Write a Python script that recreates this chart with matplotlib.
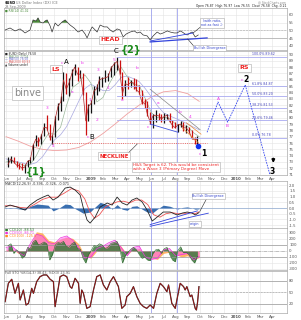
import matplotlib
matplotlib.use("Agg")
import matplotlib.pyplot as plt
import pandas as pd

W, H = 301, 320

# $USD weekly bars, Jun 2008 - Sep 2009
weeks = pd.date_range("2008-06-06", periods=69, freq="W-FRI")
close = [72.6, 73.5, 73.0, 72.5, 72.4, 72.0, 72.2, 73.1,
         73.3, 75.6, 76.6, 76.0, 77.1, 78.5, 78.4, 76.9, 77.0,
         79.9, 81.8, 82.5, 86.0, 84.5, 85.5, 87.0, 88.0, 86.9,
         86.9, 84.0, 79.5, 81.8,
         82.3, 84.2, 84.6, 86.0, 86.2, 86.3, 86.5, 87.9, 88.5,
         88.9, 87.3, 83.8, 85.4, 85.2, 85.6, 85.5, 84.4,
         84.0, 82.4, 82.3, 80.5, 79.3, 80.3, 80.4, 80.3, 79.8,
         80.2, 80.4, 79.4, 78.8, 78.4, 78.9, 79.0, 78.4, 78.4,
         77.9, 76.8, 76.5, 76.6]
high = [73.8, 74.0, 73.8, 73.1, 72.9, 72.8, 72.7, 73.3,
        73.8, 75.8, 77.3, 77.0, 77.4, 79.2, 80.4, 79.0, 77.3,
        80.3, 82.4, 83.5, 87.2, 87.0, 86.3, 87.7, 88.5, 88.1,
        87.5, 87.0, 84.0, 82.1,
        82.8, 85.0, 85.3, 86.6, 86.5, 87.5, 87.0, 88.2, 88.8,
        89.6, 89.1, 87.2, 85.9, 86.5, 86.0, 86.3, 86.1,
        85.2, 84.4, 82.9, 82.6, 80.9, 80.6, 81.2, 80.8, 80.6,
        80.7, 80.6, 80.7, 79.6, 79.3, 79.0, 79.5, 79.3, 78.8,
        78.5, 78.0, 77.0, 77.1]
low = [72.2, 72.9, 72.8, 72.2, 71.9, 71.7, 71.3, 72.2,
       72.8, 73.3, 75.6, 75.6, 75.9, 77.1, 78.0, 76.5, 75.9,
       77.0, 79.6, 81.0, 82.6, 83.8, 83.5, 85.0, 86.8, 85.8,
       86.3, 83.6, 77.3, 79.5,
       80.8, 82.2, 83.6, 84.3, 84.9, 85.7, 85.8, 86.4, 86.8,
       87.6, 86.9, 83.0, 83.5, 84.5, 84.9, 84.5, 84.2,
       83.8, 82.2, 81.6, 80.2, 79.0, 78.3, 79.4, 79.6, 79.4,
       79.2, 79.8, 79.3, 78.4, 78.4, 77.7, 78.6, 77.9, 77.6,
       77.6, 76.7, 75.9, 75.7]

# moving averages, half-month samples (x in months since Jun 2008)
ma_m = [i / 2 for i in range(32)] + [15.95]
ma20 = [73.0, 73.1, 72.9, 72.4, 72.6, 74.0, 76.0, 77.5, 77.4, 78.5,
        82.0, 84.8, 85.5, 86.8, 85.5, 82.5, 83.2, 85.3, 87.0, 88.0,
        86.5, 85.3, 85.1, 83.0, 80.8, 80.0, 80.1, 79.9, 79.0, 78.8,
        78.6, 77.6, 77.0]
ma50 = [73.5, 73.2, 73.0, 72.8, 72.6, 72.9, 73.8, 75.2, 76.5, 77.3,
        78.6, 80.6, 82.6, 84.6, 85.3, 84.8, 84.3, 84.3, 85.2, 86.4,
        86.6, 86.2, 85.7, 84.6, 83.3, 81.9, 80.8, 80.3, 79.9, 79.5,
        79.0, 78.5, 78.1]
ma200_m = list(range(16)) + [15.95]
ma200 = [77.0, 76.3, 75.5, 75.0, 74.8, 74.9, 75.3, 76.2, 77.5, 79.0,
         80.6, 82.0, 83.3, 84.1, 84.3, 83.8, 82.6]

# fib retracement levels and the neckline
fib_vals = [89.62, 85.0, 83.4, 81.6, 79.6, 76.8]
fib_text = ["100.0% 89.62", "61.8% 84.87", "50.0% 83.20",
            "38.2% 81.53", "23.6% 79.46", "0.0% 76.78"]
neckline = 76.0

# projected path (A)-(B)-2-3
proj_m = [16.6, 17.5, 18.3, 19.75, 21.8]
proj_v = [77.7, 82.5, 79.3, 85.2, 70.9]

# upper indicator panel
top_m = [-0.08, 0.33, 0.74, 1.16, 1.57, 1.98, 2.23, 2.48, 2.64, 2.81,
         3.06, 3.22, 3.39, 3.64, 3.80, 4.05, 4.30, 4.63, 4.88, 5.12,
         5.29, 5.62, 5.95, 6.28, 6.53, 6.69, 6.94, 7.11, 7.36, 7.52,
         7.77, 8.10, 8.35, 8.60, 8.84, 9.17, 9.42, 9.67, 9.92, 10.25,
         10.58, 10.83, 11.07, 11.32, 11.65, 11.90, 12.15, 12.48, 12.73, 12.98,
         13.31, 13.55, 13.88, 14.13, 14.38, 14.55, 14.79, 14.96, 15.21, 15.37,
         15.62, 15.87]
top_v = [50.3, 51.6, 49.7, 51.0, 48.4, 50.3, 56.8, 56.1, 58.1, 55.5,
         54.8, 56.1, 56.8, 52.9, 49.0, 54.8, 52.9, 55.5, 56.8, 54.8,
         53.5, 51.6, 49.0, 50.3, 47.7, 45.2, 49.7, 52.3, 50.3, 49.0,
         53.5, 52.3, 52.3, 50.3, 49.0, 51.0, 50.3, 45.8, 47.7, 49.0,
         49.7, 48.4, 49.0, 47.1, 46.5, 43.9, 46.5, 49.0, 47.7, 48.4,
         49.7, 49.0, 48.4, 48.4, 49.7, 49.0, 47.7, 47.1, 48.4, 49.0,
         45.8, 47.1]

# MACD
macd_m = [-0.08, 0.33, 0.9, 1.57, 1.98, 2.56, 3.06, 3.47, 3.88, 4.3,
          4.88, 5.29, 5.7, 6.12, 6.36, 6.69, 6.94, 7.36, 7.77, 8.35,
          8.76, 9.17, 9.59, 10.0, 10.4, 10.8, 11.24, 11.65, 12.07, 12.48,
          12.98, 13.55, 14.13, 14.55, 14.96, 15.37, 15.62, 15.93]
macd = [0.09, 0.26, 0.09, -0.18, 0.26, 0.7, 0.96, 1.14, 0.7, 0.96,
        1.75, 1.84, 1.58, 1.14, 0.09, -1.05, -1.32, -0.79, 0.09, 0.44,
        0.26, 0.96, 0.44, 0.26, 0.7, 0.88, 0.53, -0.18, -1.14, -0.79,
        -0.35, -0.35, -0.61, -0.44, -0.35, -0.44, -0.61, -0.40]
hist = [-0.05, 0.05, -0.05, -0.15, 0.15, 0.35, 0.3, 0.25, -0.25, -0.05,
        0.35, 0.3, -0.05, -0.3, -0.45, -0.4, -0.35, 0.1, 0.5, 0.3,
        -0.1, 0.3, -0.1, -0.2, 0.15, 0.2, -0.1, -0.35, -0.45, -0.1,
        0.25, 0.15, -0.1, 0.05, 0.1, 0.0, -0.1, -0.07]
sig_m = [-0.08, 0.5, 1.2, 1.8, 2.4, 3.0, 3.6, 4.2, 4.8, 5.4,
         6.0, 6.5, 6.9, 7.3, 7.7, 8.2, 8.7, 9.2, 9.7, 10.2,
         10.7, 11.2, 11.7, 12.2, 12.7, 13.2, 13.7, 14.2, 14.7, 15.2,
         15.6, 15.93]
signal = [0.2, 0.2, 0.05, 0.0, 0.35, 0.75, 0.95, 0.95, 1.3, 1.7,
          1.5, 0.8, -0.3, -0.9, -0.6, 0.1, 0.35, 0.55, 0.6, 0.45,
          0.7, 0.7, 0.3, -0.6, -0.8, -0.5, -0.4, -0.5, -0.5, -0.4,
          -0.5, -0.33]

# CCI panel
cci_green = [90, 120, -40, 20, -30, -120, -80, 60, 40, 150, 180, 100, 120,
             150, 120, -150, -60, 100, 140, 130, 160, 80, 60, 120, 150, 40,
             30, -120, -200, -60, 10, 90, 80, 120, 100, 40, 60, 130, 140,
             160, 50, -200, -80, -20, 30, 60, 20, -60, -120, -100, -150, -160,
             -40, 20, 30, -40, 40, 60, -60, -150, -180, 10, 70, -30, -20,
             -60, -150, -200, -90]
cci_orange = [20, 40, -40, -60, 80, 320, 300, 180, 150, 200,
              230, 210, 120, -80, -120, 0, 60, 100, 150, 80,
              -60, 20, 40, -60, -120, -140, -40, -20, -60, -100,
              -80, -140, -110]
cci_magenta = [60, 80, -20, -80, 120, 280, 250, 140, 120, 220,
               250, 180, 60, -120, -100, 40, 80, 140, 180, 60,
               -80, 60, 80, -100, -140, -120, 20, 40, -80, -60,
               -40, -150, -90]

# slow stochastic
sto_m = [-0.08, 0.19, 0.47, 0.74, 1.02, 1.16, 1.43, 1.65, 1.85, 2.12,
         2.26, 2.53, 2.81, 3.09, 3.36, 3.64, 3.91, 4.05, 4.33, 4.46,
         4.74, 5.01, 5.29, 5.43, 5.70, 5.98, 6.12, 6.25, 6.39, 6.67,
         6.94, 7.22, 7.49, 7.77, 8.04, 8.32, 8.60, 8.87, 9.01, 9.28,
         9.56, 9.83, 9.97, 10.25, 10.52, 10.80, 11.07, 11.35, 11.62, 11.90,
         12.18, 12.45, 12.73, 13.00, 13.28, 13.42, 13.69, 13.97, 14.38, 14.66,
         14.79, 14.93, 15.21, 15.34, 15.62, 15.72, 15.82, 15.93]
sto = [26.0, 73.9, 84.4, 47.8, 73.9, 30.4, 56.5, 17.3, 21.7, 60.9,
       47.8, 78.3, 91.3, 95.7, 95.7, 84.4, 78.3, 13.0, 65.2, 91.3,
       95.7, 91.3, 65.2, 60.9, 87.0, 73.9, 21.7, 56.5, 47.8, 8.6,
       13.0, 56.5, 91.3, 95.7, 69.6, 56.5, 78.3, 91.3, 82.6, 65.2,
       8.6, 17.3, 39.1, 47.8, 65.2, 39.1, 21.7, 13.0, 8.6, 17.3,
       8.6, 47.8, 73.9, 65.2, 52.1, 69.6, 21.7, 8.6, 73.9, 65.2,
       56.5, 65.2, 39.1, 43.4, 8.6, 4.3, 26.0, 65.2]

months = ["Jun", "Jul", "Aug", "Sep", "Oct", "Nov", "Dec", "2009", "Feb", "Mar",
          "Apr", "May", "Jun", "Jul", "Aug", "Sep", "Oct", "Nov", "Dec", "2010",
          "Feb", "Mar", "Apr"]
marker_lines = [12.0, 14.13]

top_ticks = [40, 45, 50, 55, 60]
price_ticks = list(range(71, 91))
macd_ticks = [-1.5, -1.0, -0.5, 0.0, 0.5, 1.0, 1.5, 2.0]
macd_labels = ["-1.5", "-1.0", "-0.5", "0.0", "0.5", "1.0", "1.5", "2.0"]
cci_ticks = [-300, -200, -100, 0, 100, 200, 300]
cci_labels = ["-300", "-200", "-100", "0", "100", "200", "300"]
sto_ticks = [20, 50, 80]


def to_m(d):
    return (d.year - 2008) * 12 + d.month - 6 + (d.day - 1) / d.days_in_month


wm = [to_m(d) for d in weeks]

fig = plt.figure(figsize=(W / 100, H / 100), dpi=100)


def rect(x0, y0, x1, y1):
    return [x0 / W, 1 - y1 / H, (x1 - x0) / W, (y1 - y0) / H]


def ftxt(x, y, s, **kw):
    kw.setdefault("fontsize", 2.4)
    kw.setdefault("va", "center")
    fig.text(x / W, 1 - y / H, s, **kw)


def base(ax, lo, hi, ticks, labels=None, xlabels=False):
    ax.set_xlim(-0.17, 23.2)
    ax.set_ylim(lo, hi)
    ax.set_xticks(range(23))
    if xlabels:
        ax.set_xticklabels(months)
        for t in ax.get_xticklabels():
            if t.get_text() in ("2009", "2010"):
                t.set_fontweight("bold")
    else:
        ax.set_xticklabels([])
    ax.set_yticks(ticks)
    ax.set_yticklabels(labels if labels else [str(t) for t in ticks])
    ax.yaxis.tick_right()
    ax.tick_params(length=0, labelsize=2.8, colors="#555555", pad=1.5)
    ax.grid(True, color="#e4e4e4", lw=0.4)
    ax.set_axisbelow(True)
    for s in ax.spines.values():
        s.set_color("#aaaaaa")
        s.set_linewidth(0.5)
    for vm in marker_lines:
        ax.axvline(vm, color="#a0a4f0", lw=0.6)


box = dict(boxstyle="square,pad=0.25", fc="white", ec="#aaaaaa", lw=0.4)

# ---- upper panel ----
ax_top = fig.add_axes(rect(4, 8, 287, 50))
base(ax_top, 37.4, 64.5, top_ticks)
ax_top.axhline(50, color="#aaaaaa", lw=0.4, ls="--")
ax_top.axhline(45, color="#aaaaaa", lw=0.5)
ax_top.plot(top_m, top_v, color="#333333", lw=0.5)
ax_top.fill_between(top_m, 55, top_v, where=[v > 55 for v in top_v],
                    interpolate=True, color="#4a8a3a", lw=0)
ax_top.text(8.6, 43.9, "HEAD", color="#ee2222", fontsize=4.5, fontweight="bold",
            ha="center", va="center", bbox=box)
ax_top.plot([11.9, 16.6], [42.6, 45.2], color="#3344dd", lw=0.9)
ax_top.plot([11.9, 15.45], [43.2, 48.4], color="#3344dd", lw=0.6)
ax_top.plot([15.45, 16.1], [48.4, 52.5], color="#222222", lw=0.4)
ax_top.plot([15.0, 15.6], [44.5, 39.0], color="#222222", lw=0.4)
ax_top.text(17.0, 54.8, "(with ratio,\nnot as fast ;)", color="#3344cc",
            fontsize=2.4, ha="center", va="center", bbox=box)
ax_top.text(16.8, 38.6, "Bullish Divergence", color="#3344cc", fontsize=2.4,
            ha="center", va="center", bbox=box, clip_on=False)

# ---- price panel ----
ax = fig.add_axes(rect(4, 51, 287, 175))
base(ax, 70.94, 90.56, price_ticks, xlabels=True)
ax.plot(ma200_m, ma200, color="#f0a0a0", lw=0.6)
ax.plot(ma_m, ma50, color="#a8a8e0", lw=0.5)
ax.plot(ma_m, ma20, color="#9ab89a", lw=0.5)
cols = ["#111111" if i == 0 or close[i] >= close[i - 1] else "#cc1111"
        for i in range(len(close))]
ax.vlines(wm, low, high, colors=cols, lw=0.9)
ax.plot(wm, close, color="#aa2222", lw=0.5)

for v, t in zip(fib_vals, fib_text):
    ax.plot([9.2, 23.2], [v, v], color="#a8aaf0", lw=0.6)
    ax.text(20.3, v + 0.1, t, color="#4444bb", fontsize=2.3, va="bottom")

ax.plot([3.8, 16.6], [neckline, neckline], color="#ee4444", lw=0.6, ls=":")
ax.plot([11.9, 16.03], [84.5, 78.1], color="#888888", lw=0.5)
ax.plot([11.9, 14.2], [79.0, 77.7], color="#4455dd", lw=0.6)
ax.plot([14.55, 15.9], [78.4, 76.0], color="#ee8833", lw=0.5)
ax.plot([14.9, 16.1], [79.2, 77.4], color="#ee8833", lw=0.5)
ax.plot(proj_m, proj_v, color="#3344ee", lw=0.6, ls=(0, (2, 1.2)))
ax.plot(15.87, 75.5, "o", color="#1133ee", ms=3)

magenta = [(3.39, 81.5, "3"), (3.88, 75.5, "4"), (4.63, 88.7, "c"), (5.45, 84.1, "a"),
           (6.28, 88.7, "b"), (6.78, 77.0, "c"), (6.94, 82.8, "1"), (7.52, 79.6, "2"),
           (7.6, 87.5, "3"), (8.43, 84.7, "4"), (8.93, 89.1, "5"), (9.59, 82.8, "a"),
           (10.83, 87.9, "b"), (11.74, 78.5, "c"), (12.56, 82.3, "a"), (14.38, 80.9, "b"),
           (15.21, 80.1, "4"), (16.03, 74.3, "c"), (17.52, 83.0, "A"), (18.26, 78.7, "B"),
           (19.45, 86.0, "c")]
for mx, my, s in magenta:
    ax.text(mx, my, s, color="#ee33ee", fontsize=3.2, ha="center", va="center")

for mx, my, s in [(4.96, 88.8, "A"), (7.11, 77.0, "B"), (9.05, 90.6, "C")]:
    ax.text(mx, my, s, color="black", fontsize=5, ha="center", va="center")
for mx, my, s in [(16.36, 74.4, "1"), (19.82, 86.0, "2"), (21.98, 71.5, "3")]:
    ax.text(mx, my, s, color="black", fontsize=5.5, fontweight="bold",
            ha="center", va="center")
ax.text(10.3, 90.8, "{2}", color="#1a8a1a", fontsize=7, fontweight="bold",
        ha="center", va="center")
ax.text(2.48, 71.4, "{1}", color="#1a8a1a", fontsize=7, fontweight="bold",
        ha="center", va="center")
ax.annotate("", xy=(22.07, 72.4), xytext=(22.07, 74.0),
            arrowprops=dict(arrowstyle="-|>", color="black", lw=1.2, mutation_scale=4))

ax.text(4.13, 87.7, "LS", color="#ee2222", fontsize=4.5, fontweight="bold",
        ha="center", va="center", bbox=box)
ax.text(19.67, 87.9, "RS", color="#ee2222", fontsize=4.5, fontweight="bold",
        ha="center", va="center", bbox=box)
ax.text(1.74, 83.9, "binve", color="#888888", fontsize=7, ha="center", va="center",
        bbox=dict(boxstyle="square,pad=0.2", fc="white", ec="#bbbbbb", lw=0.5))
ax.text(8.93, 73.94, "NECKLINE", color="#ee2222", fontsize=3.8, fontweight="bold",
        ha="center", va="center", bbox=box)
ax.plot([10.08, 10.83], [74.4, 75.85], color="#555555", lw=0.5)
ax.text(10.5, 72.9, "H&S Target is 62. This would be consistent\n"
        "with a Wave 3 (Primary Degree) Move", color="#ee2222", fontsize=2.9,
        ha="left", va="top", bbox=box)

legend_rows = [("\u25a0 $USD (Daily) 76.58", "#222222"), ("\u2014 MA(20) 77.04", "#6a9a6a"),
               ("\u2014 MA(50) 78.58", "#6666cc"), ("\u2014 MA(200) 80.93", "#dd5555"),
               ("\u25b2 Volume undef", "#222222")]
for i, (s, c) in enumerate(legend_rows):
    ftxt(5, 54 + 2.7 * i, s, color=c, fontsize=2.1)

# ---- MACD panel ----
axm = fig.add_axes(rect(4, 181, 287, 228))
base(axm, -1.75, 2.37, macd_ticks, macd_labels)
axm.axhline(0, color="#7799cc", lw=0.4)
axm.fill_between(macd_m, 0, hist, color="#3a6fb0", lw=0)
axm.plot(sig_m, signal, color="#ee5555", lw=0.6)
axm.plot(macd_m, macd, color="#222222", lw=0.6)
axm.plot([11.9, 16.7], [-1.6, -0.45], color="#3344dd", lw=0.6)
axm.plot([11.9, 15.8], [-1.45, -0.25], color="#3344dd", lw=0.6)
axm.plot([16.0, 16.6], [-0.3, 0.9], color="#222222", lw=0.4)
axm.text(16.7, 1.05, "Bullish Divergence", color="#3344cc", fontsize=2.4,
         ha="center", va="center", bbox=box)
axm.text(15.6, -1.4, "origin", color="#3344cc", fontsize=2.4,
         ha="center", va="center", bbox=box)
ftxt(5, 184, "MACD(12,26,9) -0.396, -0.326, -0.071", color="#333333")

# ---- CCI panel ----
axc = fig.add_axes(rect(4, 228, 287, 270))
base(axc, -317, 383, cci_ticks, cci_labels)
axc.axhline(100, color="#999999", lw=0.5)
axc.axhline(-100, color="#999999", lw=0.5)
axc.axhline(0, color="#999999", lw=0.4, ls="-.")
axc.fill_between(ma_m, 0, cci_orange, color="#ffa040", alpha=0.8, lw=0)
axc.fill_between(ma_m, 0, cci_magenta, color="#ff66ee", alpha=0.6, lw=0)
axc.plot(ma_m, cci_magenta, color="#ee33dd", lw=0.5)
axc.fill_between(wm, 0, cci_green, color="#3d7a3d", alpha=0.85, lw=0)
axc.plot(wm, cci_green, color="#2d6a2d", lw=0.4)
ftxt(5, 230, "\u25a0 CCI(20) -88.53", color="#2d7a2d")
ftxt(5, 233, "\u25a0 CCI(50) -86.71", color="#ee33dd")
ftxt(5, 236, "\u25a0 CCI(100) -125.6", color="#ff8c20")

# ---- stochastic panel ----
axs = fig.add_axes(rect(4, 271, 287, 313))
base(axs, -3.5, 106, sto_ticks, xlabels=True)
axs.axhline(80, color="#999999", lw=0.5)
axs.axhline(20, color="#999999", lw=0.5)
axs.axhline(50, color="#999999", lw=0.4, ls="--")
axs.plot(sto_m, sto, color="#333333", lw=0.9)
axs.plot(sto_m, sto, color="#aa1111", lw=0.5)
ftxt(5, 273, "Full STO %K(14,3) 38.43, %D(3) 23.91", color="#555555")

# ---- header ----
ftxt(5, 3, "$USD", color="black", fontweight="bold", fontsize=2.6)
ftxt(16, 3, "US Dollar Index (DX) ICE", color="#777777")
ftxt(5, 7, "29-Sep-2009", color="#777777")
ftxt(5, 11, "\u25a0 RSI(14) 41.02", color="#4a8a3a", fontsize=2.1)
ftxt(286, 2, "@ StockCharts.com", color="#888888", ha="right", fontsize=2.1)
ftxt(286, 6, "Open 76.87  High 76.97  Low 76.55  Close 76.58  Chg -0.21",
     color="#222222", ha="right", fontsize=2.2)

fig.savefig("out.png", dpi=100)
